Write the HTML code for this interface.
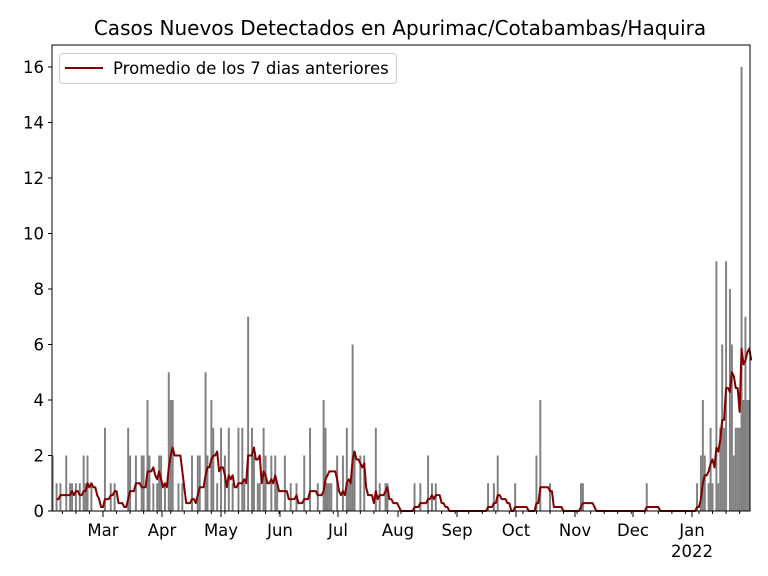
<!DOCTYPE html>
<html><head><meta charset="utf-8"><style>
html,body{margin:0;padding:0;background:#fff;}
svg{display:block;font-family:"DejaVu Sans","Liberation Sans",sans-serif;}
</style></head><body>
<svg id="s" width="768" height="576" viewBox="0 0 768 576" xmlns="http://www.w3.org/2000/svg">
<rect width="768" height="576" fill="#fff"/>
<text x="400" y="35" font-size="20" text-anchor="middle" fill="#000">Casos Nuevos Detectados en Apurimac/Cotabambas/Haquira</text>
<g id="bars" fill="#808080"></g>
<polyline id="line" fill="none" stroke="#800000" stroke-width="2" stroke-linejoin="round"/>
<rect x="52" y="45" width="698" height="466" fill="none" stroke="#000" stroke-width="1"/>
<g id="ticks" font-size="16.5" fill="#000"></g>
<g>
<rect x="59.5" y="53.5" width="337" height="30" rx="3" fill="#fff" fill-opacity="0.8" stroke="#ccc"/>
<line x1="65" y1="68" x2="103" y2="68" stroke="#800000" stroke-width="2"/>
<text x="113" y="74" font-size="16.5">Promedio de los 7 dias anteriores</text>
</g>
</svg>
<script>
var pts=[[52,2],[56,1],[60,1],[66,2],[70,1],[73,1],[76,1],[80,1],[83,2],[85,1],[88,2],[92,1],[105,3],[110,1],[115,1],[128,3],[130,2],[136,2],[141,2],[143,2],[147,4],[150,2],[153,1],[157,1],[160,2],[162,2],[164,1],[168,5],[170,4],[172,4],[178,1],[183,1],[192,2],[198,2],[200,2],[205,5],[207,2],[211,4],[213,3],[218,1],[222,3],[225,2],[229,3],[233,1],[238,3],[242,3],[245,1],[249,7],[252,3],[254,2],[257,1],[259,1],[263,3],[265,2],[271,2],[275,2],[277,1],[284,2],[291,1],[297,1],[304,2],[310,3],[318,1],[324,4],[326,3],[328,1],[330,1],[332,1],[338,2],[342,2],[346,3],[348,1],[350,1],[352,6],[355,2],[360,2],[365,2],[376,3],[380,1],[385,1],[387,1],[415,1],[420,1],[428,2],[432,1],[436,1],[488,1],[493,1],[498,2],[515,1],[536,2],[540,4],[550,1],[581,1],[583,1],[646,1],[698,1],[700,2],[702,4],[704,2],[708,1],[711,3],[713,1],[717,9],[719,1],[721,3],[723,6],[725,3],[727,9],[729,8],[731,6],[733,2],[735,3],[737,3],[739,3],[741,16],[743,4],[745,7],[747,4],[749,4]];
var px=1.935, x0=103, N=362, d0=-26;
function X(d){return x0+px*d;}
function Y(v){return 511-27.75*v;}
var vals=new Array(N).fill(0);
pts.forEach(function(p){var i=Math.round((p[0]-x0)/px)-d0; if(i>=0&&i<N) vals[i]=Math.max(vals[i],p[1]);});
var b=document.getElementById("bars"),h="";
for(var i=0;i<N;i++){if(vals[i]>0){var x=X(i+d0);h+='<rect x="'+(x-0.97).toFixed(2)+'" y="'+Y(vals[i]).toFixed(2)+'" width="1.95" height="'+(27.75*vals[i]).toFixed(2)+'"/>';}}
b.innerHTML=h;
var lp=[];
for(var i=2;i<N;i++){var s=0;for(var k=Math.max(0,i-6);k<=i;k++){s+=vals[k];}lp.push(X(i+d0).toFixed(2)+","+Y(s/7).toFixed(2));}
document.getElementById("line").setAttribute("points",lp.join(" "));
var t="";
for(var v=0;v<=16;v+=2){var y=Y(v);t+='<line x1="48" y1="'+y+'" x2="52" y2="'+y+'" stroke="#000"/><text x="44" y="'+(y+6)+'" text-anchor="end">'+v+'</text>';}
var months=[["Mar",103],["Apr",162],["May",221],["Jun",280],["Jul",338],["Aug",398],["Sep",457],["Oct",516],["Nov",575],["Dec",633],["Jan",692]];
months.forEach(function(m){t+='<line x1="'+m[1]+'" y1="511" x2="'+m[1]+'" y2="517" stroke="#000"/><text x="'+m[1]+'" y="536" text-anchor="middle">'+m[0]+'</text>';});
t+='<text x="692" y="557" text-anchor="middle">2022</text>';
for(var d=-26;d<=335;d++){var dt=new Date(2021,2,1+d);if(dt.getDay()==1){var x=X(d);t+='<line x1="'+x+'" y1="511" x2="'+x+'" y2="514" stroke="#000"/>';}}
document.getElementById("ticks").innerHTML=t;
</script>
</body></html>
